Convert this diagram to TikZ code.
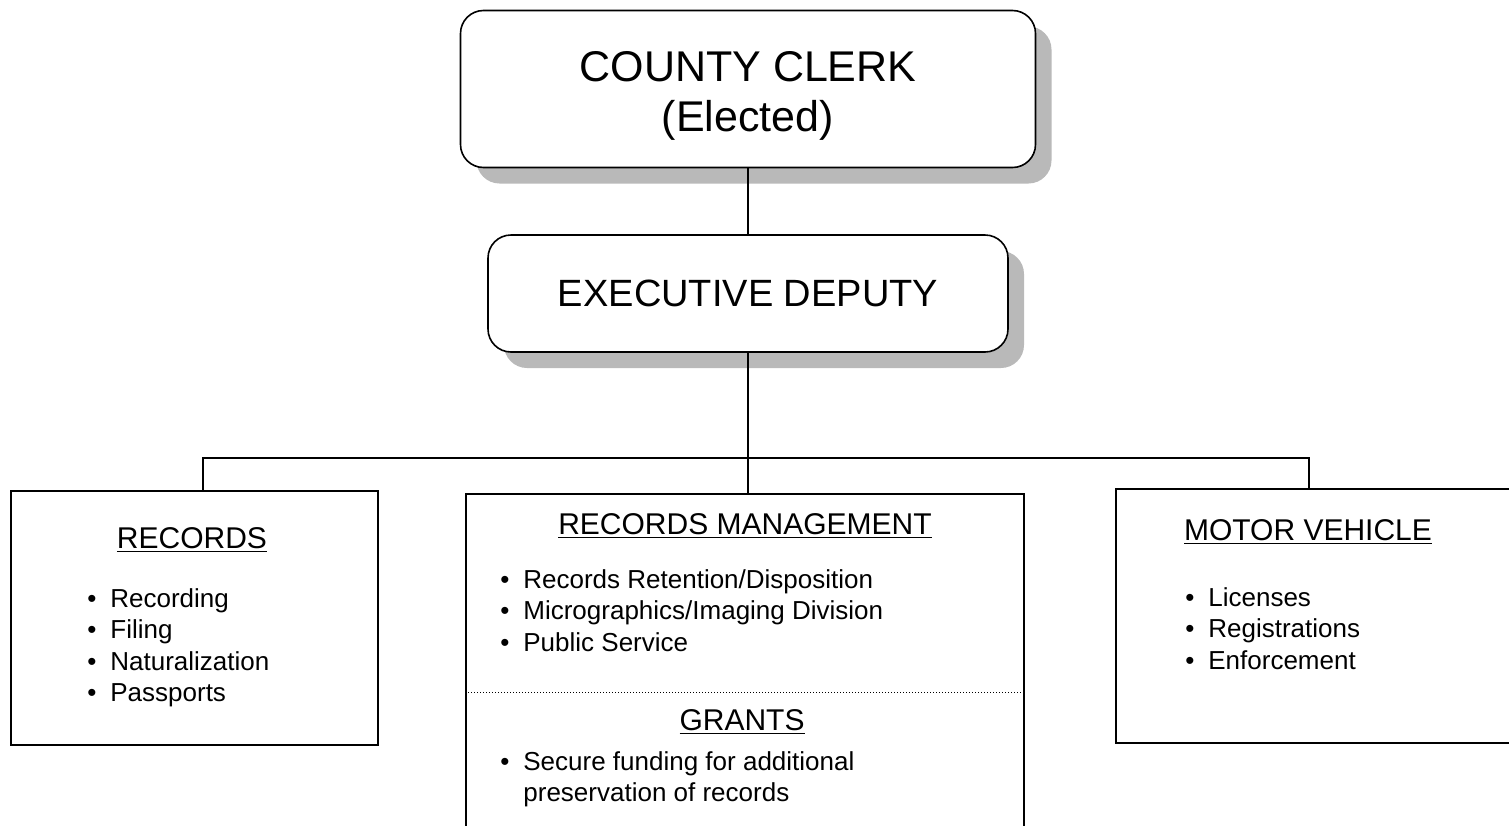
\documentclass[tikz,border=0pt]{standalone}
\usepackage{fontspec}
\setmainfont{Liberation Sans}
\usetikzlibrary{shadows}
\newcommand{\bul}{\makebox[11.5pt][l]{\textbullet}}
\tikzset{
  chief/.style={draw, line width=0.8pt, rounded corners=11.5pt, fill=white, align=center,
    drop shadow={shadow xshift=8pt, shadow yshift=-8pt, fill=gray!55, opacity=1}},
  unit/.style={draw, line width=0.6pt, inner sep=0pt},
  head/.style={font=\fontsize{15}{18}\selectfont, inner sep=0pt, anchor=base},
  item/.style={font=\fontsize{13}{15.8}\selectfont, inner sep=0pt, anchor=base west},
  link/.style={line width=0.6pt}
}
\begin{document}
\begin{tikzpicture}[x=0.5pt,y=-0.5pt]
  \useasboundingbox (0,0) rectangle (1509,825);
  \node[chief, minimum width=287.5pt, minimum height=78.5pt,
    font=\fontsize{21.5}{25}\selectfont] (clerk) at (748,89) {\rule{0pt}{22pt}COUNTY CLERK\\(Elected)};
  \node[chief, minimum width=260pt, minimum height=58.5pt,
    font=\fontsize{19}{22}\selectfont] (deputy) at (748,293.5) {EXECUTIVE DEPUTY};
  \node[unit, minimum width=183.5pt, minimum height=127pt] (rec) at (194.5,618) {};
  \node[unit, minimum width=279pt, minimum height=173pt] (recmgmt) at (745,667) {};
  \node[unit, minimum width=199.5pt, minimum height=127pt] (motor) at (1315.5,616) {};
  \coordinate (bus) at (748,458);
  \draw[link] (clerk.south) -- (deputy.north);
  \draw[link] (deputy.south) -- (deputy.south |- recmgmt.north);
  \draw[link] ([xshift=4.25pt]rec.north) |- (bus) -| ([xshift=-3.25pt]motor.north);
  \draw[densely dotted, line width=0.5pt] (recmgmt.west |- 0,692) -- (recmgmt.east |- 0,692);
  \node[head] (recHead) at (192,548) {\underline{RECORDS}};
  \foreach \t [count=\i from 0] in {Recording,Filing,Naturalization,Passports}
    \node[item] (rec\i) at (87,{607+31.6*\i}) {\bul\t};
  \node[head] (mgmtHead) at (745,534) {\underline{RECORDS MANAGEMENT}};
  \foreach \t [count=\i from 0] in {Records Retention/Disposition,Micrographics/Imaging Division,Public Service}
    \node[item] (mgmt\i) at (500,{588+31.6*\i}) {\bul\t};
  \node[head] (grantHead) at (742,730) {\underline{GRANTS}};
  \node[item] (grant0) at (500,770) {\bul Secure funding for additional};
  \node[item] (grant1) at (523,801) {preservation of records};
  \node[head] (motorHead) at (1308,540) {\underline{MOTOR VEHICLE}};
  \foreach \t [count=\i from 0] in {Licenses,Registrations,Enforcement}
    \node[item] (motor\i) at (1185,{606+31.6*\i}) {\bul\t};
\end{tikzpicture}
\end{document}
